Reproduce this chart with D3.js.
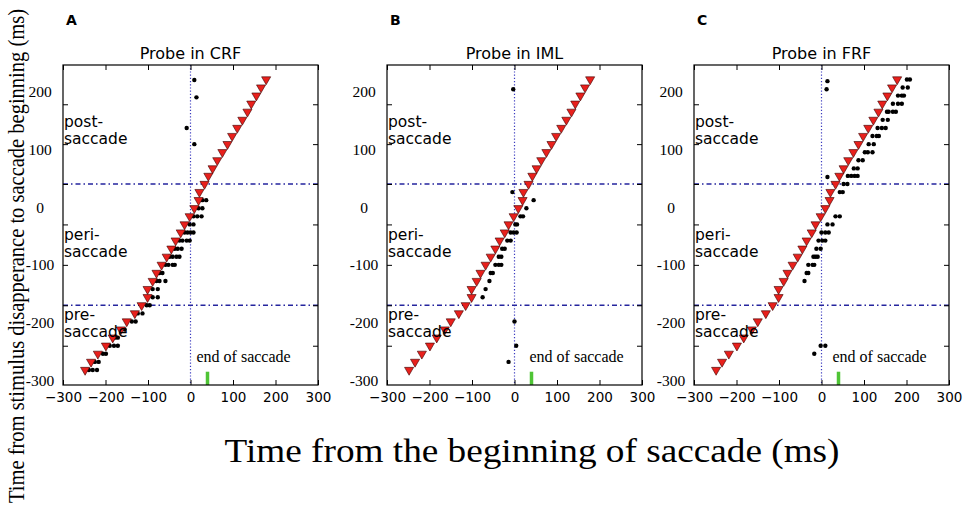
<!DOCTYPE html>
<html>
<head>
<meta charset="utf-8">
<script src="https://cdn.jsdelivr.net/npm/d3@7/dist/d3.min.js"></script>
<style>
  body { margin: 0; background: #fff; }
  text { fill: #000; }
</style>
</head>
<body>
<svg id="chart" width="964" height="512"></svg>
<script>
// probe times (red triangles) - same in all three panels
var probeX = [178, 166, 155, 143, 134, 122, 110, 98, 87, 75, 63, 52, 42, 33, 21, 19, 9, -2, -14, -23, -35, -45, -56, -68, -80, -89, -101, -101, -115, -131, -150, -164, -183, -199, -218, -234, -248];
var probeY = [221, 207, 193, 179, 165, 151, 137, 123, 109, 95, 81, 67, 54, 40, 26, 12, -2, -16, -30, -44, -58, -72, -86, -100, -114, -128, -142, -156, -170, -184, -198, -212, -226, -240, -254, -268, -282];

// perceived times (black dots), [x, y] in ms
var crfDots = [[9,220],[14,190],[-9,137],[9,109],
  [28,12],[37,12],[19,-2],[28,-2],[7,-16],[16,-16],[26,-16],[-2,-30],[7,-30],
  [-14,-44],[-7,-44],[0,-44],[7,-44],[-26,-58],[-19,-58],[-9,-58],[-2,-58],
  [-37,-72],[-30,-72],[-21,-72],[-49,-86],[-42,-86],[-33,-86],[-26,-86],
  [-59,-100],[-52,-100],[-42,-100],[-37,-100],[-73,-114],[-66,-114],
  [-80,-128],[-73,-128],[-59,-128],[-89,-142],[-77,-142],[-89,-156],[-77,-156],
  [-103,-170],[-96,-170],[-124,-184],[-113,-184],[-138,-198],[-129,-198],
  [-155,-212],[-178,-226],[-171,-226],[-190,-240],[-180,-240],[-171,-240],
  [-206,-254],[-199,-254],[-225,-268],[-216,-268],[-239,-282],[-230,-282],[-220,-282]];
var imlDots = [[-3,204],[-5,26],
  [45,12],[28,-2],[14,-16],[20,-16],[2,-30],[6,-30],[-9,-44],[-2,-44],[5,-44],
  [-17,-58],[-9,-58],[-29,-72],[-23,-72],[-37,-86],[-31,-86],
  [-45,-100],[-37,-100],[-31,-100],[-56,-114],[-51,-114],[-59,-128],[-68,-142],[-75,-156],
  [0,-198],[4,-240],[-14,-268]];
var frfDots = [[14,218],[12,204],[14,52],
  [201,221],[208,221],[191,207],[203,207],[180,193],[189,193],[194,193],
  [168,179],[180,179],[189,179],[154,165],[158,165],[168,165],[175,165],
  [144,151],[156,151],[132,137],[142,137],[151,137],[120,123],[130,123],[135,123],
  [111,109],[123,109],[102,95],[109,95],[120,95],[87,81],[97,81],[76,67],[85,67],
  [62,54],[70,54],[78,54],[85,54],[52,40],[61,40],[43,26],[50,26],
  [33,-16],[43,-16],[14,-30],[26,-30],[0,-44],[9,-44],[17,-44],
  [-7,-58],[2,-58],[9,-58],[-12,-72],[-2,-72],[-19,-86],[-14,-86],[-9,-86],
  [-31,-100],[-21,-100],[-17,-100],[-35,-114],[-31,-114],[-40,-128],
  [-2,-240],[9,-240],[-17,-254]];

var xTicks = [-300, -200, -100, 0, 100, 200, 300];
var yTickLabels = [200, 100, 0, -100, -200, -300];
var yTickMarks = [-240, -170, -100, -30, 40, 109, 178];
var periodBounds = [40, -170];
var saccadeEnd = 40;
var periodNames = [["post-", "saccade"], ["peri-", "saccade"], ["pre-", "saccade"]];
var periodLabelY = [139, -57, -195];

var panels = [
  { letter: "A", title: "Probe in CRF", left: 63, dots: crfDots, endLabelDx: 6 },
  { letter: "B", title: "Probe in IML", left: 387, dots: imlDots, endLabelDx: 15 },
  { letter: "C", title: "Probe in FRF", left: 694, dots: frfDots, endLabelDx: 11 }
];

var svg = d3.select("#chart");
var W = 255, plotTop = 65, plotBottom = 385;
var sans = "'DejaVu Sans', sans-serif", serif = "'Liberation Serif', 'Times New Roman', serif";
var tri = d3.symbol().type(d3.symbolTriangle).size(36);

panels.forEach(function(p) {
  var x = d3.scaleLinear().domain([-300, 300]).range([p.left, p.left + W]);
  var y = d3.scaleLinear().domain([-308, 246]).range([plotBottom, plotTop]);
  var g = svg.append("g");

  // reference lines
  g.append("line")
    .attr("x1", x(0)).attr("x2", x(0)).attr("y1", plotTop).attr("y2", plotBottom)
    .style("stroke", "#3b3bbf").style("stroke-width", 1.2).style("stroke-dasharray", "1.2,2");
  g.selectAll(".bound").data(periodBounds).enter().append("line")
    .attr("x1", p.left).attr("x2", p.left + W)
    .attr("y1", function(d) { return y(d); }).attr("y2", function(d) { return y(d); })
    .style("stroke", "#25259e").style("stroke-width", 1.5).style("stroke-dasharray", "5,3,1.5,3");

  // end of saccade marker
  g.append("line")
    .attr("x1", x(saccadeEnd)).attr("x2", x(saccadeEnd)).attr("y1", y(-308)).attr("y2", y(-285))
    .style("stroke", "#4fc435").style("stroke-width", 3.5);
  g.append("text")
    .attr("x", x(0) + p.endLabelDx).attr("y", 362)
    .style("font-family", serif).style("font-size", "16px")
    .text("end of saccade");

  // dots
  g.selectAll(".dot").data(p.dots).enter().append("circle")
    .attr("cx", function(d) { return x(d[0]); })
    .attr("cy", function(d) { return y(d[1]); })
    .attr("r", 2.2).style("fill", "#000");

  // triangles
  g.selectAll(".tri").data(probeX).enter().append("path")
    .attr("d", tri)
    .attr("transform", function(d, i) { return "translate(" + x(d) + "," + y(probeY[i]) + ") rotate(180)"; })
    .style("fill", "#e8201c").style("stroke", "#3a0000").style("stroke-width", 0.6);

  // period labels
  periodNames.forEach(function(lines, i) {
    var t = g.append("text").attr("x", p.left + 1).attr("y", y(periodLabelY[i]))
      .style("font-family", sans).style("font-size", "15.5px");
    t.append("tspan").attr("x", p.left + 1).text(lines[0]);
    t.append("tspan").attr("x", p.left + 1).attr("dy", 17).text(lines[1]);
  });

  // axes
  var bx = g.append("g").attr("transform", "translate(0," + plotBottom + ")")
    .call(d3.axisBottom(x).tickValues(xTicks).tickSizeInner(-5).tickSizeOuter(0).tickPadding(7));
  bx.selectAll("text").style("font-family", sans).style("font-size", "13.5px");
  g.append("g").attr("transform", "translate(0," + plotTop + ")")
    .call(d3.axisTop(x).tickValues(xTicks).tickSizeInner(-5).tickSizeOuter(0).tickFormat(""));
  g.append("g").attr("transform", "translate(" + p.left + ",0)")
    .call(d3.axisLeft(y).tickValues(yTickMarks).tickSizeInner(-5).tickSizeOuter(0).tickFormat(""));
  g.append("g").attr("transform", "translate(" + (p.left + W) + ",0)")
    .call(d3.axisRight(y).tickValues(yTickMarks).tickSizeInner(-5).tickSizeOuter(0).tickFormat(""));
  g.selectAll(".domain").remove();
  g.selectAll(".tick line").style("stroke", "#000");

  g.selectAll(".ylab").data(yTickLabels).enter().append("text")
    .attr("x", p.left - 23).attr("y", function(d) { return y(d); }).attr("dy", "0.35em")
    .attr("text-anchor", "middle")
    .style("font-family", serif).style("font-size", "15.5px")
    .text(function(d) { return String(d); });

  g.append("rect")
    .attr("x", p.left).attr("y", plotTop).attr("width", W).attr("height", plotBottom - plotTop)
    .style("fill", "none").style("stroke", "#000").style("stroke-width", 1.2);

  g.append("text")
    .attr("x", p.left + W / 2).attr("y", 59).attr("text-anchor", "middle")
    .style("font-family", sans).style("font-size", "16px")
    .text(p.title);
  g.append("text")
    .attr("x", p.left + 3).attr("y", 25)
    .style("font-family", sans).style("font-size", "14px").style("font-weight", "bold")
    .text(p.letter);
});

svg.append("text")
  .attr("x", 532).attr("y", 462).attr("text-anchor", "middle")
  .attr("textLength", 615).attr("lengthAdjust", "spacingAndGlyphs")
  .style("font-family", serif).style("font-size", "34px")
  .text("Time from the beginning of saccade (ms)");

svg.append("text")
  .attr("transform", "translate(16,256) rotate(-90)")
  .attr("text-anchor", "middle").attr("dy", "0.33em")
  .attr("textLength", 494).attr("lengthAdjust", "spacingAndGlyphs")
  .style("font-family", serif).style("font-size", "24px")
  .text("Time from stimulus disapperance to saccade beginning (ms)");
</script>
</body>
</html>
